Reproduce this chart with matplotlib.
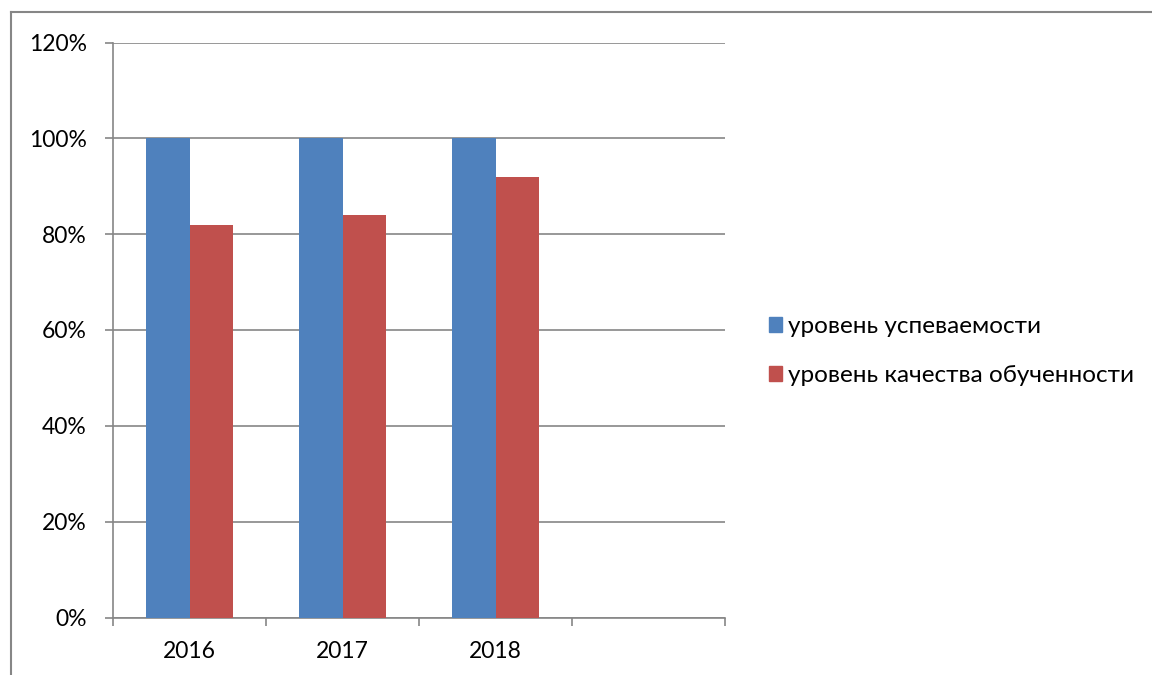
import numpy as np
import matplotlib
matplotlib.use("Agg")
import matplotlib.pyplot as plt
from matplotlib.lines import Line2D
from matplotlib.patches import Patch

# данные диаграммы
years = ["2016", "2017", "2018", ""]
uspevaemost = [1.00, 1.00, 1.00, np.nan]
kachestvo = [0.82, 0.84, 0.92, np.nan]
series_names = ["уровень успеваемости", "уровень качества обученности"]
y_ticks = [0, 0.2, 0.4, 0.6, 0.8, 1.0, 1.2]

blue = "#4F81BD"
red = "#C0504D"
grey = "#868686"

plt.rcParams['font.family'] = ['Lato', 'DejaVu Sans']

W, H = 1152, 675
fig = plt.figure(figsize=(W / 100, H / 100), dpi=100)
ax = fig.add_axes([113 / W, (H - 617.5) / H, (725 - 113) / W, (617.5 - 42.5) / H])

x = np.arange(len(years))
bw = 0.287
ax.bar(x - bw / 2, uspevaemost, width=bw, color=blue, zorder=3)
ax.bar(x + bw / 2, kachestvo, width=bw, color=red, zorder=3)

ax.set_xlim(-0.5, len(years) - 0.5)
ax.set_ylim(0, 1.2)
ax.set_yticks(y_ticks)
ax.set_yticklabels([f"{int(round(v * 100))}%" for v in y_ticks])
ax.yaxis.grid(True, color=grey, linewidth=1.2, zorder=0)
ax.set_axisbelow(True)

ax.set_xticks(x)
ax.set_xticklabels(years)
ax.set_xticks(np.arange(len(years) + 1) - 0.5, minor=True)
ax.tick_params(axis='x', which='major', length=0, pad=17, labelsize=16.5)
ax.tick_params(axis='x', which='minor', length=6, width=1.2, color=grey, direction='out')
ax.tick_params(axis='y', length=6, width=1.2, color=grey, pad=13, labelsize=16.5)

for s in ['top', 'right']:
    ax.spines[s].set_visible(False)
for s in ['left', 'bottom']:
    ax.spines[s].set_color(grey)
    ax.spines[s].set_linewidth(1.2)

handles = [Patch(color=blue), Patch(color=red)]
fig.legend(handles, series_names, loc='center left',
           bbox_to_anchor=(769 / W, 1 - 351 / H), frameon=False,
           fontsize=17.5, handlelength=0.55, handleheight=0.55,
           handletextpad=0.25, labelspacing=1.15, borderaxespad=0,
           borderpad=0)

# рамка области диаграммы (обрезана справа и снизу)
fig.add_artist(Line2D([11 / W, 1], [1 - 12 / H, 1 - 12 / H], color=grey, lw=1.5,
                      transform=fig.transFigure))
fig.add_artist(Line2D([11 / W, 11 / W], [0, 1 - 12 / H], color=grey, lw=1.5,
                      transform=fig.transFigure))

fig.savefig("out.png", dpi=100)
